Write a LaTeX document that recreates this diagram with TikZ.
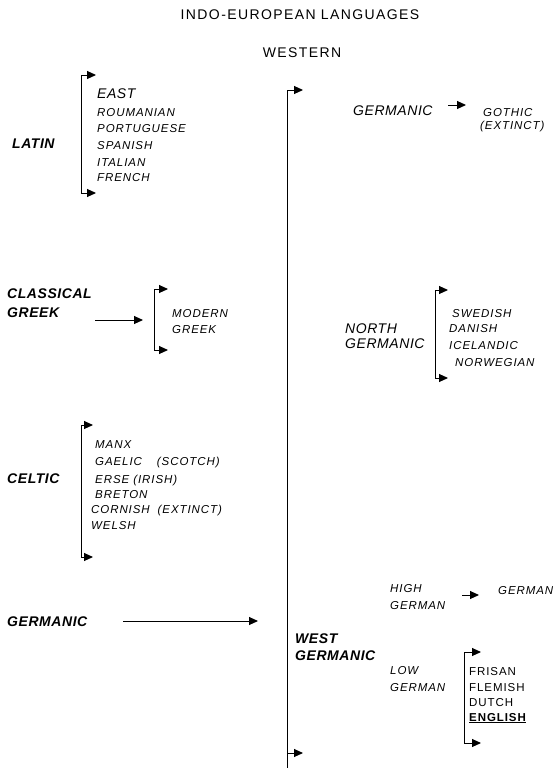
\documentclass[tikz,border=0pt]{standalone}
\usepackage{fontspec}
\setmainfont{Liberation Sans}
\newfontfamily\ftitle[LetterSpace=10]{Liberation Sans}
\newfontfamily\fbig[LetterSpace=4]{Liberation Sans}
\newfontfamily\fsmall[LetterSpace=8]{Liberation Sans}
\usetikzlibrary{arrows.meta}
\begin{document}
\begin{tikzpicture}[x=1pt,y=-1pt,
  lbl/.style={inner sep=0pt, anchor=base west},
  ttl/.style={inner sep=0pt, anchor=base, font=\ftitle\fontsize{14}{16}\selectfont},
  bigbold/.style={lbl, font=\fbig\fontsize{14}{16}\selectfont\bfseries\itshape},
  bigit/.style={lbl, font=\fbig\fontsize{14}{16}\selectfont\itshape},
  smallit/.style={lbl, font=\fsmall\fontsize{11.5}{13}\selectfont\itshape},
  smallup/.style={lbl, font=\fsmall\fontsize{11.5}{13}\selectfont},
  conn/.style={line width=1pt, -{Triangle[length=9pt,width=8pt]}},
  brk/.style={line width=1pt, {Triangle[length=9pt,width=8pt]}-{Triangle[length=9pt,width=8pt]}}
]
\useasboundingbox (0,0) rectangle (554,768);
\fill[white] (0,0) rectangle (554,768);

% titles
\node[ttl] (title) at (300,20) {INDO-EUROPEAN LANGUAGES};
\node[ttl] (western) at (302,57) {WESTERN};

% ---------- LATIN ----------
\node[bigbold] (latin) at (12,148) {LATIN};
\coordinate (latT) at (81,75);  \coordinate (latTe) at (96,75);
\coordinate (latB) at (81,193); \coordinate (latBe) at (96,193);
\draw[brk] (latTe) -- (latT) -- (latB) -- (latBe);
\node[bigit] (east) at (97,98) {EAST};
\node[smallit] (roum) at (97,116) {ROUMANIAN};
\node[smallit] (port) at (97,132) {PORTUGUESE};
\node[smallit] (span) at (97,149) {SPANISH};
\node[smallit] (ital) at (97,166) {ITALIAN};
\node[smallit] (fren) at (97,181) {FRENCH};

% ---------- CLASSICAL GREEK ----------
\node[bigbold] (clas) at (7,298) {CLASSICAL};
\node[bigbold] (clgr) at (7,317) {GREEK};
\coordinate (grA) at (95,320); \coordinate (grAe) at (143,320);
\draw[conn] (grA) -- (grAe);
\coordinate (grT) at (154,289); \coordinate (grTe) at (168,289);
\coordinate (grB) at (154,350); \coordinate (grBe) at (168,350);
\draw[brk] (grTe) -- (grT) -- (grB) -- (grBe);
\node[smallit] (mod) at (172,317) {MODERN};
\node[smallit] (modg) at (172,333) {GREEK};

% ---------- CELTIC ----------
\node[bigbold] (celtic) at (7,483) {CELTIC};
\coordinate (ceT) at (81,425); \coordinate (ceTe) at (93,425);
\coordinate (ceB) at (81,557); \coordinate (ceBe) at (93,557);
\draw[brk] (ceTe) -- (ceT) -- (ceB) -- (ceBe);
\node[smallit] (manx) at (95,448) {MANX};
\node[smallit] (gael) at (95,465) {GAELIC\hspace{15pt}(SCOTCH)};
\node[smallit] (erse) at (95,483) {ERSE (IRISH)};
\node[smallit] (bret) at (95,498) {BRETON};
\node[smallit] (corn) at (91,513) {CORNISH\hspace{8pt}(EXTINCT)};
\node[smallit] (wels) at (91,529) {WELSH};

% ---------- GERMANIC (left) ----------
\node[bigbold] (germ) at (7,626) {GERMANIC};
\coordinate (geA) at (123,621); \coordinate (geAe) at (258,621);
\draw[conn] (geA) -- (geAe);

% ---------- main trunk ----------
\coordinate (mT) at (287,90);  \coordinate (mTe) at (303,90);
\coordinate (mB) at (287,753); \coordinate (mBe) at (303,753);
\coordinate (mEnd) at (287,768);
\draw[conn] (mEnd) -- (mT) -- (mTe);
\draw[conn] (mB) -- (mBe);

% ---------- GERMANIC -> GOTHIC ----------
\node[bigit] (germr) at (353,115) {GERMANIC};
\coordinate (goA) at (448,105); \coordinate (goAe) at (466,105);
\draw[conn] (goA) -- (goAe);
\node[smallit] (goth) at (483,116) {GOTHIC};
\node[smallit] (goex) at (480,129) {(EXTINCT)};

% ---------- NORTH GERMANIC ----------
\node[bigit] (north) at (345,333) {NORTH};
\node[bigit] (northg) at (345,348) {GERMANIC};
\coordinate (noT) at (435,290); \coordinate (noTe) at (448,290);
\coordinate (noB) at (435,378); \coordinate (noBe) at (448,378);
\draw[brk] (noTe) -- (noT) -- (noB) -- (noBe);
\node[smallit] (swe) at (452,317) {SWEDISH};
\node[smallit] (dan) at (449,332) {DANISH};
\node[smallit] (ice) at (449,349) {ICELANDIC};
\node[smallit] (nor) at (455,366) {NORWEGIAN};

% ---------- WEST GERMANIC ----------
\node[bigbold] (west) at (295,643) {WEST};
\node[bigbold] (westg) at (295,660) {GERMANIC};
\node[smallit] (high) at (390,592) {HIGH};
\node[smallit] (highg) at (390,609) {GERMAN};
\coordinate (hiA) at (462,595); \coordinate (hiAe) at (479,595);
\draw[conn] (hiA) -- (hiAe);
\node[smallit] (german) at (498,594) {GERMAN};
\node[smallit] (low) at (390,674) {LOW};
\node[smallit] (lowg) at (390,691) {GERMAN};
\coordinate (loT) at (464,652); \coordinate (loTe) at (481,652);
\coordinate (loB) at (464,743); \coordinate (loBe) at (481,743);
\draw[brk] (loTe) -- (loT) -- (loB) -- (loBe);
\node[smallup] (fris) at (469,675) {FRISAN};
\node[smallup] (flem) at (469,691) {FLEMISH};
\node[smallup] (dutc) at (469,706) {DUTCH};
\node[smallup] (engl) at (469,721) {\bfseries\underline{ENGLISH}};
\end{tikzpicture}
\end{document}
